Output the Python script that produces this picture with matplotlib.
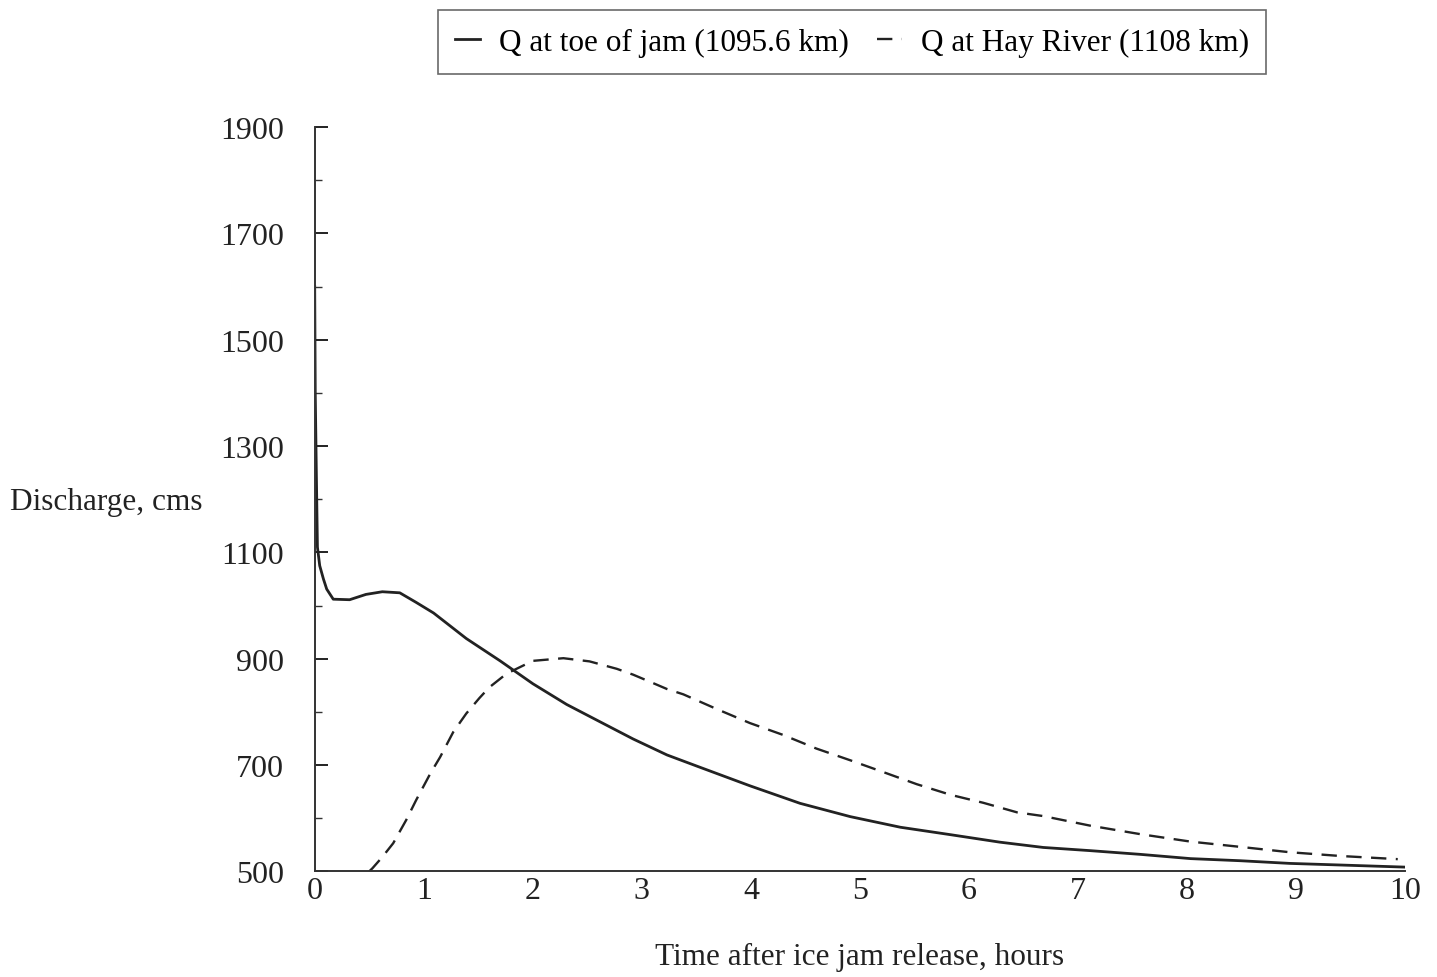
import numpy as np
import matplotlib
matplotlib.use('Agg')
import matplotlib.pyplot as plt

plt.rcParams['font.family'] = ['Liberation Serif', 'DejaVu Serif']

# ── Data ─────────────────────────────────────────────────────
t_toe = [0.0, 0.005, 0.015, 0.025, 0.046, 0.08, 0.11, 0.17, 0.32, 0.47,
         0.62, 0.78, 0.93, 1.09, 1.39, 1.70, 2.0, 2.31, 2.61, 2.92, 3.23,
         3.53, 3.99, 4.45, 4.91, 5.37, 5.83, 6.28, 6.68, 7.11, 7.57, 8.03,
         8.49, 8.94, 9.4, 10.0]
q_toe = [1600, 1400, 1250, 1110, 1075, 1050, 1031, 1012, 1011, 1021,
         1026, 1024, 1006, 986, 938, 896, 853, 814, 782, 749, 719,
         696, 661, 628, 603, 583, 569, 555, 545, 539, 532, 524,
         520, 515, 512, 508]

t_hay = [0.5, 0.53, 0.62, 0.72, 0.84, 0.93, 1.06, 1.15, 1.27, 1.39, 1.51,
         1.6, 1.76, 2.0, 2.28, 2.52, 2.77, 2.92, 3.07, 3.23, 3.38, 3.69,
         3.99, 4.29, 4.6, 4.91, 5.21, 5.52, 5.83, 6.13, 6.44, 6.68, 7.11,
         7.57, 8.03, 8.49, 8.94, 9.4, 9.93]
q_hay = [500, 506, 527, 553, 597, 634, 684, 715, 762, 797, 826,
         846, 872, 896, 901, 895, 881, 870, 857, 843, 833, 805,
         779, 757, 731, 709, 687, 664, 644, 629, 611, 604, 586,
         570, 556, 546, 536, 529, 523]

x_ticks = list(range(0, 11))
y_major = [500, 700, 900, 1100, 1300, 1500, 1700, 1900]
y_minor = list(range(600, 1900, 200))

label_toe = 'Q at toe of jam (1095.6 km)'
label_hay = 'Q at Hay River (1108 km)'

# ── Figure ───────────────────────────────────────────────────
fig = plt.figure(figsize=(14.37, 9.78), dpi=100)
ax = fig.add_axes([0.219, 0.108, 0.759, 0.761])

ax.plot(t_toe, q_toe, color='#222222', lw=2.0, label=label_toe)
ax.plot(t_hay, q_hay, color='#222222', lw=1.7, dashes=(6.5, 4),
        label=label_hay)

ax.set_xlim(0, 10)
ax.set_ylim(500, 1900)
ax.set_xticks(x_ticks)
ax.set_yticks(y_major)
ax.set_yticks(y_minor, minor=True)

ax.spines['top'].set_visible(False)
ax.spines['right'].set_visible(False)
for s in ['left', 'bottom']:
    ax.spines[s].set_color('#333333')
    ax.spines[s].set_linewidth(1.4)

ax.tick_params(axis='y', which='major', direction='in', length=9, width=1.4,
               labelsize=23, pad=22, colors='#222222')
ax.tick_params(axis='y', which='minor', direction='in', length=5, width=1.0,
               colors='#333333')
ax.tick_params(axis='x', which='major', length=0, labelsize=23, pad=3,
               colors='#222222')

ax.set_xlabel('Time after ice jam release, hours', fontsize=22.5,
              labelpad=27, color='#222222')
fig.text(0.007, 0.486, 'Discharge, cms', fontsize=22.5, ha='left',
         va='center', color='#222222')

leg = fig.legend(loc='center', bbox_to_anchor=(0.593, 0.956), ncol=2,
                 fontsize=22.5, handlelength=0.8, handletextpad=0.6,
                 columnspacing=0.9, frameon=True, fancybox=False,
                 borderpad=0.55)
leg.get_frame().set_edgecolor('#444444')
leg.get_frame().set_linewidth(1.2)

fig.savefig('out.png', dpi=100, facecolor='white')
